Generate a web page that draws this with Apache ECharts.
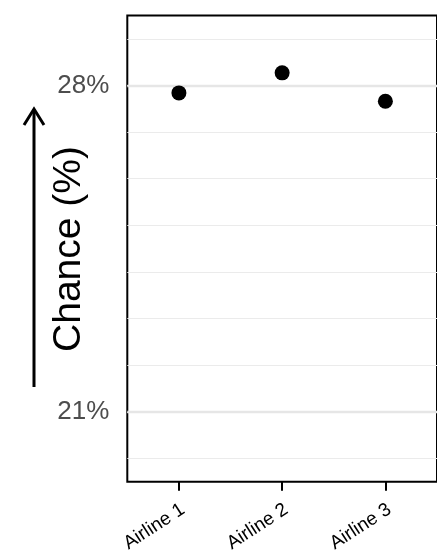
<!DOCTYPE html>
<html>
<head>
<meta charset="utf-8">
<script src="https://cdn.jsdelivr.net/npm/echarts@6/dist/echarts.min.js"></script>
<style>
  html, body { margin: 0; padding: 0; background: #fff; }
  #chart { width: 437px; height: 557px; }
</style>
</head>
<body>
<div id="chart"></div>
<script>
// Airlines and their estimated chance (%)
const airlines = ['Airline 1', 'Airline 2', 'Airline 3'];
const chance = [27.84, 28.27, 27.66];

// Axis range and labelled breaks (%)
const yMin = 19.5;
const yMax = 29.5;
const majorBreaks = [21, 28];
const yTitle = 'Chance (%)';

const FONT = '"Liberation Sans", Arial, Helvetica, sans-serif';

const chart = echarts.init(document.getElementById('chart'), null, { renderer: 'canvas' });

chart.setOption({
  animation: false,
  backgroundColor: '#ffffff',
  textStyle: { fontFamily: FONT },
  grid: {
    left: 127.3,
    right: -0.5,
    top: 15.5,
    bottom: 75.3,
    show: true,
    borderColor: '#000000',
    borderWidth: 2,
    backgroundColor: 'transparent'
  },
  xAxis: {
    type: 'category',
    data: airlines,
    boundaryGap: true,
    axisLine: { show: false },
    axisTick: {
      show: true,
      alignWithLabel: true,
      length: 9,
      lineStyle: { color: '#000000', width: 2 }
    },
    axisLabel: {
      rotate: 33,
      margin: 29,
      fontSize: 19,
      color: '#000000',
      fontFamily: FONT,
      padding: [0, -5, 0, 0]
    },
    splitLine: { show: false }
  },
  yAxis: {
    type: 'value',
    min: yMin,
    max: yMax,
    interval: 0.5,
    axisLine: { show: false },
    axisTick: { show: false },
    axisLabel: {
      margin: 18,
      fontSize: 26,
      color: '#4D4D4D',
      fontFamily: FONT,
      formatter: function (v) {
        return majorBreaks.indexOf(v) >= 0 ? v + '%' : '';
      }
    },
    splitLine: {
      show: true,
      lineStyle: { color: ['rgba(0,0,0,0)', '#EBEBEB'], width: 1.2 }
    }
  },
  graphic: [
    // axis title, read bottom-to-top
    {
      type: 'text',
      x: 69,
      y: 249,
      rotation: Math.PI / 2,
      style: {
        text: yTitle,
        font: '39px ' + FONT,
        fill: '#000000',
        align: 'center',
        verticalAlign: 'middle'
      }
    },
    // upward arrow beside the title
    {
      type: 'line',
      shape: { x1: 34, y1: 110, x2: 34, y2: 387 },
      style: { stroke: '#000000', lineWidth: 3 }
    },
    {
      type: 'polyline',
      shape: { points: [[24, 125], [34, 109], [44, 125]] },
      style: { stroke: '#000000', lineWidth: 3, fill: null }
    }
  ],
  series: [
    {
      type: 'scatter',
      data: chance,
      symbol: 'circle',
      symbolSize: 15,
      itemStyle: { color: '#000000', opacity: 1 },
      z: 3,
      markLine: {
        silent: true,
        symbol: ['none', 'none'],
        label: { show: false },
        z: 1,
        lineStyle: { color: '#E6E6E6', width: 2.4, type: 'solid' },
        data: majorBreaks.map(function (b) { return { yAxis: b }; })
      }
    }
  ]
});
</script>
</body>
</html>
